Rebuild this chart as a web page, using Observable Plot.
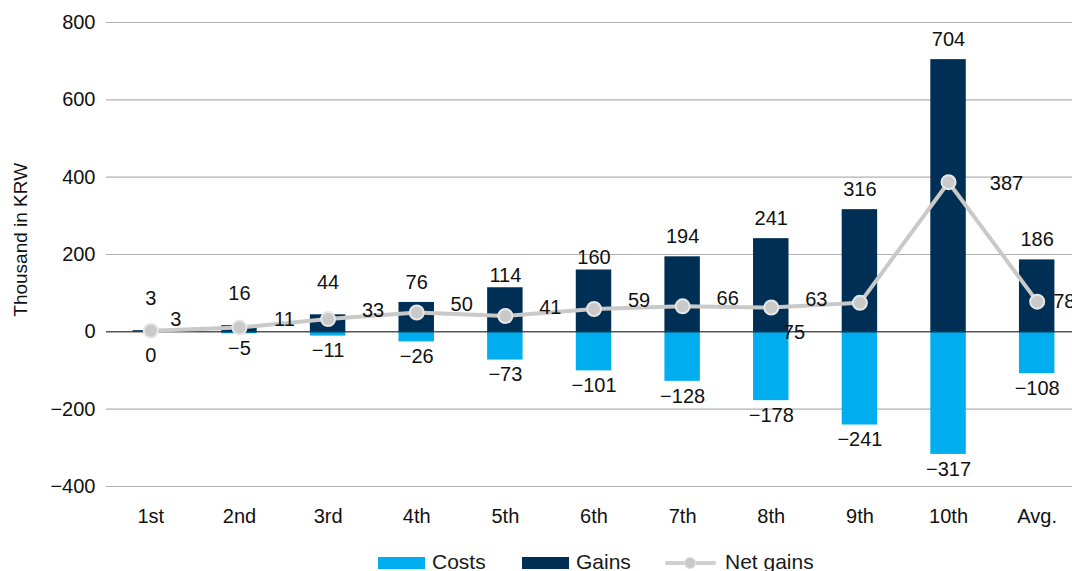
<!DOCTYPE html>
<html>
<head>
<meta charset="utf-8">
<script src="https://cdn.jsdelivr.net/npm/d3@7"></script>
<script src="https://cdn.jsdelivr.net/npm/@observablehq/plot@0.6"></script>
<style>
  html, body { margin: 0; padding: 0; background: #fff; overflow: hidden; }
  body { width: 1072px; height: 571px; font-family: Helvetica, Arial, "Liberation Sans", sans-serif; position: relative; }
  #chart svg { display: block; }
  #legend { position: absolute; left: 0; top: 549px; width: 1072px; height: 26px; font-size: 21px; color: #1a1a1a; }
  .item { position: absolute; top: 0; height: 26px; display: flex; align-items: center; white-space: nowrap; }
  .sw { width: 47px; height: 12px; margin-right: 7px; margin-top: 2px; }
  .ln { position: relative; width: 51px; height: 12px; margin-right: 9px; margin-top: 2px; }
  .ln .bar { position: absolute; left: 0; right: 0; top: 4px; height: 4px; background: #d0d0d0; border-radius: 2px; }
  .ln .pt { position: absolute; left: 19px; top: 0; width: 10px; height: 10px; border-radius: 50%; background: #c8c8c8; border: 1px solid #e4e4e4; }
</style>
</head>
<body>
<div id="chart"></div>
<div id="legend">
  <div class="item" style="left:378px"><div class="sw" style="background:#00aeef"></div>Costs</div>
  <div class="item" style="left:522px"><div class="sw" style="background:#002f55"></div>Gains</div>
  <div class="item" style="left:665px"><div class="ln"><div class="bar"></div><div class="pt"></div></div>Net gains</div>
</div>
<script>
const categories = ["1st", "2nd", "3rd", "4th", "5th", "6th", "7th", "8th", "9th", "10th", "Avg."];
const gains = [3, 16, 44, 76, 114, 160, 194, 241, 316, 704, 186];
const costs = [0, -5, -11, -26, -73, -101, -128, -178, -241, -317, -108];
const netGains = [3, 11, 33, 50, 41, 59, 66, 63, 75, 387, 78];
const yTicks = [-400, -200, 0, 200, 400, 600, 800];

const data = categories.map((c, i) => ({ cat: c, i, gain: gains[i], cost: costs[i], net: netGains[i] }));
const fmt = d3.format("d");
const font = "Helvetica, Arial, 'Liberation Sans', sans-serif";
const txt = { fontSize: 20, fill: "#111", textAnchor: "middle" };
const pick = (f) => data.filter(f);

const plot = Plot.plot({
  width: 1072,
  height: 548,
  marginLeft: 106,
  marginRight: -9,
  marginTop: 22,
  marginBottom: 62,
  style: { fontFamily: font, fontSize: "20px", color: "#111", background: "#fff", overflow: "hidden" },
  x: { domain: categories, paddingInner: 0.6, paddingOuter: 0.3, round: false, label: null },
  y: { domain: [-400, 800], label: null },
  marks: [
    Plot.ruleY(yTicks.filter(d => d !== 0), { stroke: "#b0b0b0", strokeWidth: 1.2 }),
    Plot.axisY({ ticks: yTicks, tickSize: 0, tickPadding: 11, fontSize: 20, tickFormat: fmt, label: null }),
    Plot.axisX({ tickSize: 0, tickPadding: 22, fontSize: 20, label: null }),
    Plot.barY(data, { x: "cat", y1: 0, y2: "gain", fill: "#002f55" }),
    Plot.barY(data, { x: "cat", y1: 0, y2: "cost", fill: "#00aeef" }),
    Plot.ruleY([0], { stroke: "#000", strokeWidth: 1 }),
    Plot.line(data, { x: "cat", y: "net", stroke: "#c9c9c9", strokeWidth: 4 }),
    Plot.dot(data, { x: "cat", y: "net", r: 7, fill: "#c9c9c9", stroke: "#e6e6e6", strokeWidth: 2 }),
    // gains labels
    Plot.text(pick(d => d.i < 3), { x: "cat", y: "gain", text: d => fmt(d.gain), dy: -32, ...txt }),
    Plot.text(pick(d => d.i === 4 || d.i === 5), { x: "cat", y: "gain", text: d => fmt(d.gain), dy: -12, ...txt }),
    Plot.text(pick(d => d.i === 3 || d.i > 5), { x: "cat", y: "gain", text: d => fmt(d.gain), dy: -20, ...txt }),
    // costs labels
    Plot.text(pick(d => d.i === 0), { x: "cat", y: "cost", text: d => fmt(d.cost), dy: 24, ...txt }),
    Plot.text(pick(d => d.i > 0), { x: "cat", y: "cost", text: d => fmt(d.cost), dy: 15, ...txt }),
    // net labels
    Plot.text(pick(d => d.i === 0), { x: "cat", y: "net", text: d => fmt(d.net), dx: 25, dy: -11, ...txt }),
    Plot.text(pick(d => d.i >= 1 && d.i <= 7), { x: "cat", y: "net", text: d => fmt(d.net), dx: 45, dy: -8, ...txt }),
    Plot.text(pick(d => d.i === 8), { x: "cat", y: "net", text: d => fmt(d.net), dx: -66, dy: 30, ...txt }),
    Plot.text(pick(d => d.i === 9), { x: "cat", y: "net", text: d => fmt(d.net), dx: 58, dy: 1, ...txt }),
    Plot.text(pick(d => d.i === 10), { x: "cat", y: "net", text: d => fmt(d.net), dx: 16, dy: 0, ...txt, textAnchor: "start" }),
    Plot.text(["Thousand in KRW"], { frameAnchor: "left", x: null, y: [238], text: d => d, rotate: -90, dx: -86, fontSize: 19, fill: "#111", textAnchor: "middle" })
  ]
});
document.getElementById("chart").appendChild(plot);
</script>
</body>
</html>
